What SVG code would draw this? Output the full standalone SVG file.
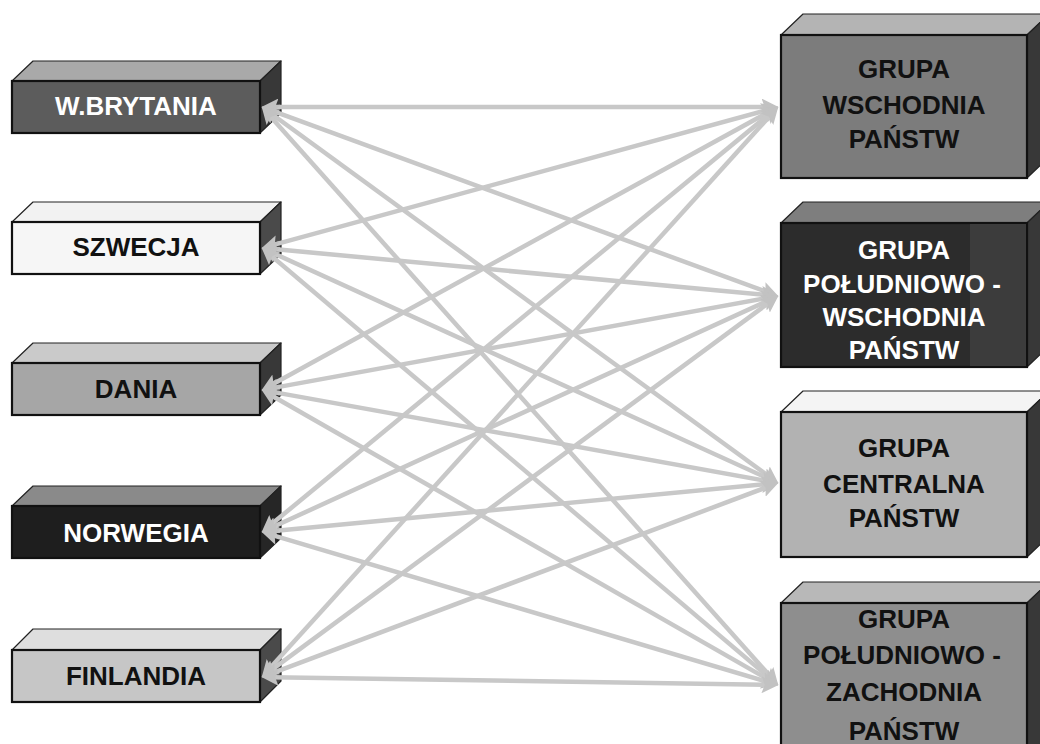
<svg xmlns="http://www.w3.org/2000/svg" width="1040" height="744" viewBox="0 0 1040 744">
<style>
.lbl{font-family:"Liberation Sans",Arial,sans-serif;font-weight:bold;font-size:26px;text-anchor:middle}
.dk{fill:#111}
.wh{fill:#fff}
.fr{stroke:#111;stroke-width:2.2}
.fc{stroke:#222;stroke-width:1.2;stroke-linejoin:round}
.side{fill:#383838}
.con{fill:none;stroke:#c8c8c8;stroke-width:4.5;marker-start:url(#ah);marker-end:url(#ah)}
</style>
<defs>
<marker id="ah" viewBox="0 0 16 16" markerWidth="17" markerHeight="17" refX="7" refY="8" orient="auto-start-reverse" markerUnits="userSpaceOnUse">
<path d="M0,0 L16,8 L0,16 L3,8 z" fill="#c2c2c2"/>
</marker>
</defs>
<rect width="1040" height="744" fill="#fff"/>

<g id="n-wbrytania">
<polygon class="fc" points="12,81 33,61 281,61 260,81" fill="#a9a9a9"/>
<polygon class="fc side" points="260,81 281,61 281,113 260,133"/>
<rect class="fr" x="12" y="81" width="248" height="52" fill="#5c5c5c"/>
<text class="lbl wh" x="136" y="115">W.BRYTANIA</text>
</g>
<g id="n-szwecja">
<polygon class="fc" points="12,222 33,202 281,202 260,222" fill="#f2f2f2"/>
<polygon class="fc" points="260,222 281,202 281,254 260,274" fill="#4a4a4a"/>
<rect class="fr" x="12" y="222" width="248" height="52" fill="#f6f6f6"/>
<text class="lbl dk" x="136" y="256">SZWECJA</text>
</g>
<g id="n-dania">
<polygon class="fc" points="12,363 33,343 281,343 260,363" fill="#cacaca"/>
<polygon class="fc side" points="260,363 281,343 281,395 260,415"/>
<rect class="fr" x="12" y="363" width="248" height="52" fill="#a6a6a6"/>
<text class="lbl dk" x="136" y="398">DANIA</text>
</g>
<g id="n-norwegia">
<polygon class="fc" points="12,506 33,486 281,486 260,506" fill="#8a8a8a"/>
<polygon class="fc" points="260,506 281,486 281,538 260,558" fill="#262626"/>
<rect class="fr" x="12" y="506" width="248" height="52" fill="#1e1e1e"/>
<text class="lbl wh" x="136" y="542">NORWEGIA</text>
</g>
<g id="n-finlandia">
<polygon class="fc" points="12,650 33,629 281,629 260,650" fill="#dedede"/>
<polygon class="fc" points="260,650 281,629 281,681 260,702" fill="#4a4a4a"/>
<rect class="fr" x="12" y="650" width="248" height="52" fill="#c6c6c6"/>
<text class="lbl dk" x="136" y="685">FINLANDIA</text>
</g>

<g id="n-wschodnia">
<polygon class="fc" points="781,35 803,14 1049,14 1027,35" fill="#b4b4b4"/>
<polygon class="fc side" points="1027,35 1049,14 1049,157 1027,178"/>
<rect class="fr" x="781" y="35" width="246" height="143" fill="#7c7c7c"/>
<text class="lbl dk" x="904" y="78">GRUPA</text>
<text class="lbl dk" x="904" y="114">WSCHODNIA</text>
<text class="lbl dk" x="904" y="148">PAŃSTW</text>
</g>
<g id="n-pld-wschodnia">
<polygon class="fc" points="781,223 803,202 1049,202 1027,223" fill="#7e7e7e"/>
<polygon class="fc side" points="1027,223 1049,202 1049,346 1027,367"/>
<rect class="fr" x="781" y="223" width="246" height="144" fill="#2c2c2c"/>
<rect x="970" y="224" width="56" height="142" fill="#3c3c3c"/>
<text class="lbl wh" x="904" y="259">GRUPA</text>
<text class="lbl wh" x="902" y="293">POŁUDNIOWO -</text>
<text class="lbl wh" x="904" y="326">WSCHODNIA</text>
<text class="lbl wh" x="904" y="359">PAŃSTW</text>
</g>
<g id="n-centralna">
<polygon class="fc" points="781,412 803,391 1049,391 1027,412" fill="#f4f4f4"/>
<polygon class="fc side" points="1027,412 1049,391 1049,536 1027,557"/>
<rect class="fr" x="781" y="412" width="246" height="145" fill="#b2b2b2"/>
<text class="lbl dk" x="904" y="457">GRUPA</text>
<text class="lbl dk" x="904" y="493">CENTRALNA</text>
<text class="lbl dk" x="904" y="527">PAŃSTW</text>
</g>
<g id="n-pld-zachodnia">
<polygon class="fc" points="781,603 803,582 1049,582 1027,603" fill="#b8b8b8"/>
<polygon class="fc side" points="1027,603 1049,582 1049,760 1027,760"/>
<rect class="fr" x="781" y="603" width="246" height="160" fill="#8e8e8e"/>
<text class="lbl dk" x="904" y="628">GRUPA</text>
<text class="lbl dk" x="902" y="664">POŁUDNIOWO -</text>
<text class="lbl dk" x="904" y="701">ZACHODNIA</text>
<text class="lbl dk" x="904" y="740">PAŃSTW</text>
</g>

<g id="connectors">
<path class="con" d="M271,107 L769,107"/>
<path class="con" d="M270.45,110.1 L769.55,292.9"/>
<path class="con" d="M269.27,112.3 L770.73,477.7"/>
<path class="con" d="M267.99,113.71 L772.01,678.29"/>

<path class="con" d="M270.68,245.63 L769.32,109.37"/>
<path class="con" d="M270.96,248.83 L769.04,295.17"/>
<path class="con" d="M270.19,251.73 L769.81,479.27"/>
<path class="con" d="M268.87,253.82 L771.13,679.18"/>

<path class="con" d="M269.89,385.67 L770.11,111.33"/>
<path class="con" d="M270.85,388.39 L769.15,297.61"/>
<path class="con" d="M270.86,391.6 L769.14,481.4"/>
<path class="con" d="M269.81,394.47 L770.19,680.53"/>

<path class="con" d="M268.95,526.28 L771.05,112.72"/>
<path class="con" d="M270.18,528.26 L769.82,299.74"/>
<path class="con" d="M270.96,531.15 L769.04,483.85"/>
<path class="con" d="M270.63,534.56 L769.37,682.44"/>

<path class="con" d="M268.04,670.33 L771.96,113.67"/>
<path class="con" d="M269.24,671.65 L770.76,301.35"/>
<path class="con" d="M270.42,673.83 L769.58,486.17"/>
<path class="con" d="M271,677.14 L769,684.86"/>
</g>
</svg>
